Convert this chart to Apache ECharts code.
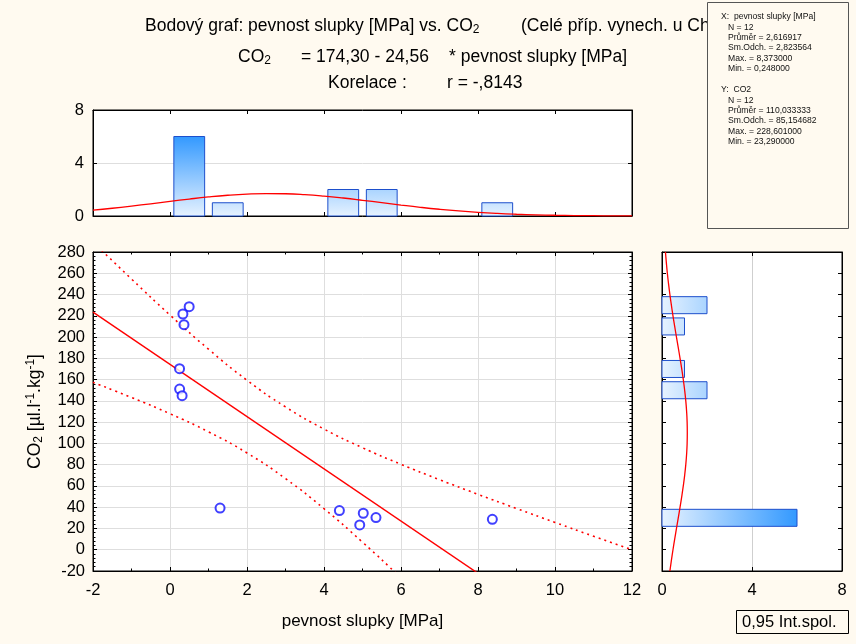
<!DOCTYPE html>
<html><head><meta charset="utf-8">
<script src="https://cdn.jsdelivr.net/npm/echarts@6/dist/echarts.min.js"></script>
<style>html,body{margin:0;padding:0;background:#fffaf0}#c{width:856px;height:644px}</style>
</head><body><div id="c"></div>
<script>
// ---------- data ----------
const strengthX = [0.498, 0.335, 0.363, 0.248, 0.25, 0.314, 1.30, 4.40, 5.02, 5.35, 4.928, 8.373];
const co2Y      = [228.601, 221.7, 211.7, 170.3, 151.1, 144.9, 39.2, 36.8, 34.3, 30.2, 23.29, 28.6];

// histogram of X (pevnost slupky)
const xBinStart = [0, 1, 4, 5, 8];
const xBinEnd   = [1, 2, 5, 6, 9];
const xBinCount = [6, 1, 2, 2, 1];

// histogram of Y (CO2)
const yBinStart = [20, 140, 160, 200, 220];
const yBinEnd   = [40, 160, 180, 220, 240];
const yBinCount = [6, 2, 1, 1, 2];

// fitted normal curve over X histogram
const xCurveX = [-2, -1.5, -1, -0.5, 0, 0.5, 1, 1.5, 2, 2.5, 3, 3.5, 4, 4.5, 5, 5.5, 6, 6.5, 7, 7.5, 8, 8.5, 9, 9.5, 10, 10.5, 11, 11.5, 12];
const xCurveY = [0.445, 0.586, 0.746, 0.922, 1.103, 1.280, 1.439, 1.567, 1.655, 1.694, 1.679, 1.614, 1.503, 1.357, 1.187, 1.006, 0.827, 0.658, 0.508, 0.380, 0.275, 0.193, 0.132, 0.087, 0.056, 0.034, 0.021, 0.012, 0.007];

// fitted normal curve over Y histogram
const yCurveY = [-20, -10, 0, 10, 20, 30, 40, 50, 60, 70, 80, 90, 100, 110, 120, 130, 140, 150, 160, 170, 180, 190, 200, 210, 220, 230, 240, 250, 260, 270, 280];
const yCurveX = [0.351, 0.417, 0.488, 0.564, 0.643, 0.723, 0.802, 0.877, 0.946, 1.007, 1.057, 1.094, 1.117, 1.124, 1.117, 1.094, 1.057, 1.007, 0.946, 0.877, 0.802, 0.723, 0.643, 0.564, 0.488, 0.417, 0.351, 0.291, 0.238, 0.193, 0.153];

// regression line CO2 = 174,30 - 24,56 * x
const regX = [-2, 12];
const regY = [223.4, -120.4];

// 0,95 confidence band
const bandX     = [-2, -1, 0, 1, 2, 3, 4, 5, 6, 7, 8, 9, 10, 11, 12];
const bandUpper = [289.4, 254.6, 220.7, 188.6, 159.4, 134.3, 113.5, 95.9, 80.3, 65.9, 52.1, 38.8, 25.7, 12.7, 0.0];
const bandLower = [157.4, 143.2, 127.9, 110.9, 91.0, 66.9, 38.6, 7.1, -26.5, -61.1, -96.5, -132.2, -168.3, -204.5, -240.8];

// texts
const statsX = ['N = 12', 'Průměr = 2,616917', 'Sm.Odch. = 2,823564', 'Max. = 8,373000', 'Min. = 0,248000'];
const statsY = ['N = 12', 'Průměr = 110,033333', 'Sm.Odch. = 85,154682', 'Max. = 228,601000', 'Min. = 23,290000'];

// ---------- chart ----------
const FONT = '"Liberation Sans", Arial, Helvetica, sans-serif';
const chart = echarts.init(document.getElementById('c'), null, {renderer: 'canvas'});

function axisBase(extra) {
  return Object.assign({
    type: 'value',
    axisLine: {show: true, onZero: false, lineStyle: {color: '#000', width: 1}},
    axisTick: {show: true, inside: true, length: 4, lineStyle: {color: '#000'}},
    axisLabel: {show: false},
    splitLine: {show: false}
  }, extra);
}
function lab(margin) {
  return {show: true, color: '#000', fontSize: 16.5, fontFamily: FONT, margin: margin};
}
const gridLine = {show: true, lineStyle: {color: '#dedede', width: 1}};
const minorX = {show: true, splitNumber: 2, length: 2.5, lineStyle: {color: '#000'}};
const minorY = {show: true, splitNumber: 5, length: 2.5, lineStyle: {color: '#000'}};

function histX(params, api) {
  const x0 = api.value(0), x1 = api.value(1), c = api.value(2);
  const ins = (x1 - x0) * 0.1;
  const p0 = api.coord([x0 + ins, c]);
  const p1 = api.coord([x1 - ins, 0]);
  const g0 = api.coord([0, 0]), g6 = api.coord([0, 6]);
  return {
    type: 'rect',
    shape: {x: p0[0], y: p0[1], width: p1[0] - p0[0], height: p1[1] - p0[1]},
    style: {
      fill: new echarts.graphic.LinearGradient(0, g0[1], 0, g6[1],
        [{offset: 0, color: '#e6f2ff'}, {offset: 1, color: '#3399ff'}], true),
      stroke: '#1d4fcc', lineWidth: 1
    }
  };
}
function histY(params, api) {
  const y0 = api.value(0), y1 = api.value(1), c = api.value(2);
  const ins = (y1 - y0) * 0.1;
  const p0 = api.coord([0, y1 - ins]);
  const p1 = api.coord([c, y0 + ins]);
  const g0 = api.coord([0, 0]), g6 = api.coord([6, 0]);
  return {
    type: 'rect',
    shape: {x: p0[0], y: p0[1], width: p1[0] - p0[0], height: p1[1] - p0[1]},
    style: {
      fill: new echarts.graphic.LinearGradient(g0[0], 0, g6[0], 0,
        [{offset: 0, color: '#e6f2ff'}, {offset: 1, color: '#3399ff'}], true),
      stroke: '#1d4fcc', lineWidth: 1
    }
  };
}

const richMain = {
  a: {fontSize: 17.5, fontFamily: FONT, fill: '#000', lineHeight: 20},
  s: {fontSize: 12, fontFamily: FONT, fill: '#000', lineHeight: 11, verticalAlign: 'bottom'}
};
const small = {fontSize: 8.6, fontFamily: FONT, fill: '#111', verticalAlign: 'middle'};

const graphics = [
  {type: 'text', x: 145, y: 26, z: 10, style: {text: '{a|Bodový graf: pevnost slupky [MPa] vs. CO}{s|2}', rich: richMain, verticalAlign: 'middle'}},
  {type: 'text', x: 521, y: 26, z: 10, style: {text: '{a|(Celé příp. vynech. u ChD)}', rich: richMain, verticalAlign: 'middle'}},
  {type: 'text', x: 238, y: 57, z: 10, style: {text: '{a|CO}{s|2}', rich: richMain, verticalAlign: 'middle'}},
  {type: 'text', x: 301, y: 57, z: 10, style: {text: '{a|= 174,30 - 24,56}', rich: richMain, verticalAlign: 'middle'}},
  {type: 'text', x: 449, y: 57, z: 10, style: {text: '{a|* pevnost slupky [MPa]}', rich: richMain, verticalAlign: 'middle'}},
  {type: 'text', x: 328, y: 83, z: 10, style: {text: '{a|Korelace :}', rich: richMain, verticalAlign: 'middle'}},
  {type: 'text', x: 447, y: 83, z: 10, style: {text: '{a|r = -,8143}', rich: richMain, verticalAlign: 'middle'}},
  {type: 'rect', z: 20, shape: {x: 707.5, y: 2.5, width: 141, height: 226}, style: {fill: '#fffaf0', stroke: '#555', lineWidth: 1}},
  {type: 'text', x: 721, y: 17, z: 21, style: Object.assign({text: 'X:  pevnost slupky [MPa]'}, small)},
  {type: 'text', x: 721, y: 90, z: 21, style: Object.assign({text: 'Y:  CO2'}, small)},
  {type: 'rect', z: 20, shape: {x: 736.5, y: 610.5, width: 112, height: 23}, style: {fill: '#fffaf0', stroke: '#000', lineWidth: 1}},
  {type: 'text', x: 742, y: 622, z: 21, style: {text: '0,95 Int.spol.', fontSize: 16.5, fontFamily: FONT, fill: '#000', verticalAlign: 'middle'}}
];
statsX.forEach((t, i) => graphics.push({type: 'text', x: 728, y: 27.3 + i * 10.4, z: 21,
  style: Object.assign({text: t}, small)}));
statsY.forEach((t, i) => graphics.push({type: 'text', x: 728, y: 100.3 + i * 10.4, z: 21,
  style: Object.assign({text: t}, small)}));

const option = {
  backgroundColor: '#fffaf0',
  animation: false,
  textStyle: {fontFamily: FONT},
  grid: [
    {left: 93, top: 110, width: 539, height: 106, show: true, backgroundColor: '#fff', borderColor: '#000', borderWidth: 1},
    {left: 93, top: 252, width: 539, height: 319, show: true, backgroundColor: '#fff', borderColor: '#000', borderWidth: 1},
    {left: 662, top: 252, width: 180, height: 319, show: true, backgroundColor: '#fff', borderColor: '#000', borderWidth: 1}
  ],
  xAxis: [
    axisBase({gridIndex: 0, position: 'bottom', min: -2, max: 12, interval: 2}),
    axisBase({gridIndex: 0, position: 'top', min: -2, max: 12, interval: 2}),
    axisBase({gridIndex: 1, position: 'bottom', min: -2, max: 12, interval: 2, axisLabel: lab(11),
      splitLine: gridLine, minorTick: minorX,
      name: 'pevnost slupky [MPa]', nameLocation: 'middle', nameGap: 42,
      nameTextStyle: {fontSize: 17, fontFamily: FONT, color: '#000'}}),
    axisBase({gridIndex: 1, position: 'top', min: -2, max: 12, interval: 2, minorTick: minorX}),
    axisBase({gridIndex: 2, position: 'bottom', min: 0, max: 8, interval: 4, axisLabel: lab(11),
      splitLine: {show: true, lineStyle: {color: '#cfcfcf'}}}),
    axisBase({gridIndex: 2, position: 'top', min: 0, max: 8, interval: 4})
  ],
  yAxis: [
    axisBase({gridIndex: 0, position: 'left', min: 0, max: 8, interval: 4, axisLabel: lab(9), splitLine: gridLine}),
    axisBase({gridIndex: 0, position: 'right', min: 0, max: 8, interval: 4}),
    axisBase({gridIndex: 1, position: 'left', min: -20, max: 280, interval: 20, axisLabel: lab(8),
      splitLine: gridLine, minorTick: minorY,
      name: '{a|CO}{s|2}{a| [µl.l}{p|-1}{a|.kg}{p|-1}{a|]}', nameLocation: 'middle', nameGap: 48,
      nameTextStyle: {rich: {
        a: {fontSize: 17.5, fontFamily: FONT, color: '#000', lineHeight: 20},
        s: {fontSize: 12, fontFamily: FONT, color: '#000', lineHeight: 11, verticalAlign: 'bottom'},
        p: {fontSize: 12, fontFamily: FONT, color: '#000', lineHeight: 11, verticalAlign: 'top'}
      }}}),
    axisBase({gridIndex: 1, position: 'right', min: -20, max: 280, interval: 20, minorTick: minorY}),
    axisBase({gridIndex: 2, position: 'left', min: -20, max: 280, interval: 20}),
    axisBase({gridIndex: 2, position: 'right', min: -20, max: 280, interval: 20})
  ],
  series: [
    {type: 'custom', xAxisIndex: 0, yAxisIndex: 0, renderItem: histX, encode: {x: [0, 1], y: 2},
      data: xBinStart.map((s, i) => [s, xBinEnd[i], xBinCount[i]]), z: 2},
    {type: 'line', xAxisIndex: 0, yAxisIndex: 0, smooth: true, showSymbol: false, symbol: 'none', clip: true,
      lineStyle: {color: '#ff0000', width: 1.3}, data: xCurveX.map((x, i) => [x, xCurveY[i]]), z: 5},
    {type: 'line', xAxisIndex: 2, yAxisIndex: 2, showSymbol: false, symbol: 'none', clip: true,
      lineStyle: {color: '#ff0000', width: 1.4}, data: regX.map((x, i) => [x, regY[i]]), z: 3},
    {type: 'line', xAxisIndex: 2, yAxisIndex: 2, smooth: true, showSymbol: false, symbol: 'none', clip: true,
      lineStyle: {color: '#ff0000', width: 1.6, type: [2, 4]}, data: bandX.map((x, i) => [x, bandUpper[i]]), z: 3},
    {type: 'line', xAxisIndex: 2, yAxisIndex: 2, smooth: true, showSymbol: false, symbol: 'none', clip: true,
      lineStyle: {color: '#ff0000', width: 1.6, type: [2, 4]}, data: bandX.map((x, i) => [x, bandLower[i]]), z: 3},
    {type: 'scatter', xAxisIndex: 2, yAxisIndex: 2, symbol: 'emptyCircle', symbolSize: 9,
      itemStyle: {color: '#1010ff', borderColor: '#1010ff', borderWidth: 1.4},
      data: strengthX.map((x, i) => [x, co2Y[i]]), z: 4},
    {type: 'custom', xAxisIndex: 4, yAxisIndex: 4, renderItem: histY, encode: {x: 2, y: [0, 1]},
      data: yBinStart.map((s, i) => [s, yBinEnd[i], yBinCount[i]]), z: 2},
    {type: 'line', xAxisIndex: 4, yAxisIndex: 4, smooth: true, showSymbol: false, symbol: 'none', clip: true,
      lineStyle: {color: '#ff0000', width: 1.3}, data: yCurveX.map((x, i) => [x, yCurveY[i]]), z: 5}
  ],
  graphic: graphics
};
chart.setOption(option);
</script>
</body></html>
